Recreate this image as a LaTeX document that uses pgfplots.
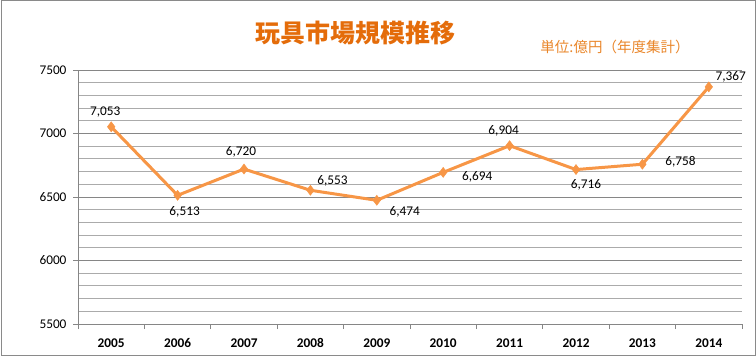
\documentclass[border=0pt]{standalone}
\usepackage{pgfplots}
\pgfplotsset{compat=1.18}
\usepackage{pgfplotstable}
\usepackage{fontspec}
\setmainfont{Carlito}
\newfontfamily\cjk{Noto Sans CJK JP}
\definecolor{lineor}{HTML}{F79646}
\definecolor{titleor}{HTML}{E46C0A}
\definecolor{subor}{HTML}{E9862A}
\definecolor{majgrid}{HTML}{868686}
\definecolor{mingrid}{HTML}{ABABAB}
\definecolor{frame}{HTML}{8A8A8A}
\pgfplotstableread{
x year val dx dy
0 2005 7053 -6 15
1 2006 6513 7 -17
2 2007 6720 -3 17
3 2008 6553 22 9
4 2009 6474 28 -12
5 2010 6694 34 -4
6 2011 6904 -6 15
7 2012 6716 10 -15
8 2013 6758 38 2
9 2014 7367 22 10
}\datatable
\begin{document}
\begin{tikzpicture}
\path (0,0) rectangle (756bp,359bp);
\draw[frame, line width=1bp] (1bp,3bp) rectangle (755bp,358bp);
\node[font=\cjk\bfseries\fontsize{25bp}{28bp}\selectfont, text=titleor] at (355bp,326bp) {玩具市場規模推移};
\node[font=\cjk\fontsize{14.5bp}{17bp}\selectfont, text=subor] at (615bp,312bp) {単位:億円（年度集計）};
\begin{axis}[
  at={(78bp,35bp)}, anchor=south west,
  scale only axis, width=664bp, height=254bp,
  xmin=-0.5, xmax=9.5, ymin=5500, ymax=7500,
  axis x line*=bottom, axis y line*=left,
  axis line style={draw=majgrid, line width=0.8bp},
  xtick={0,...,9},
  xticklabels={2005,2006,2007,2008,2009,2010,2011,2012,2013,2014},
  minor xtick={-0.5,0.5,...,9.5},
  ytick={5500,6000,...,7500},
  minor ytick={5600,5700,5800,5900,6100,6200,6300,6400,6600,6700,6800,6900,7100,7200,7300,7400},
  ymajorgrids, yminorgrids,
  major grid style={draw=majgrid, line width=0.8bp},
  minor grid style={draw=mingrid, line width=0.8bp},
  tick align=outside,
  x tick style={draw=none},
  minor x tick style={draw=majgrid, line width=0.8bp},
  minor tick length=5bp,
  major tick length=5bp,
  y tick style={draw=majgrid, line width=0.8bp},
  minor y tick style={draw=none},
  /pgf/number format/assume math mode=true,
  /pgf/number format/1000 sep={},
  yticklabel style={font=\fontsize{13.3bp}{15bp}\selectfont, xshift=-3bp},
  xticklabel style={font=\bfseries\fontsize{13.3bp}{15bp}\selectfont, yshift=-6bp},
  clip=false,
]
\addplot[color=lineor, line width=3bp, mark=diamond*, mark size=5bp,
  mark options={fill=lineor, draw=lineor, line width=0.5bp},
  visualization depends on={\thisrow{dx} \as \dx},
  visualization depends on={\thisrow{dy} \as \dy},
  nodes near coords={\pgfmathprintnumber[assume math mode=true,1000 sep={,}]{\pgfplotspointmeta}},
  nodes near coords style={anchor=center, xshift=\dx bp, yshift=\dy bp, text=black,
     font=\fontsize{13.3bp}{15bp}\selectfont},
  point meta=explicit,
] table[x=x, y=val, meta=val] {\datatable};
\end{axis}
\end{tikzpicture}
\end{document}
